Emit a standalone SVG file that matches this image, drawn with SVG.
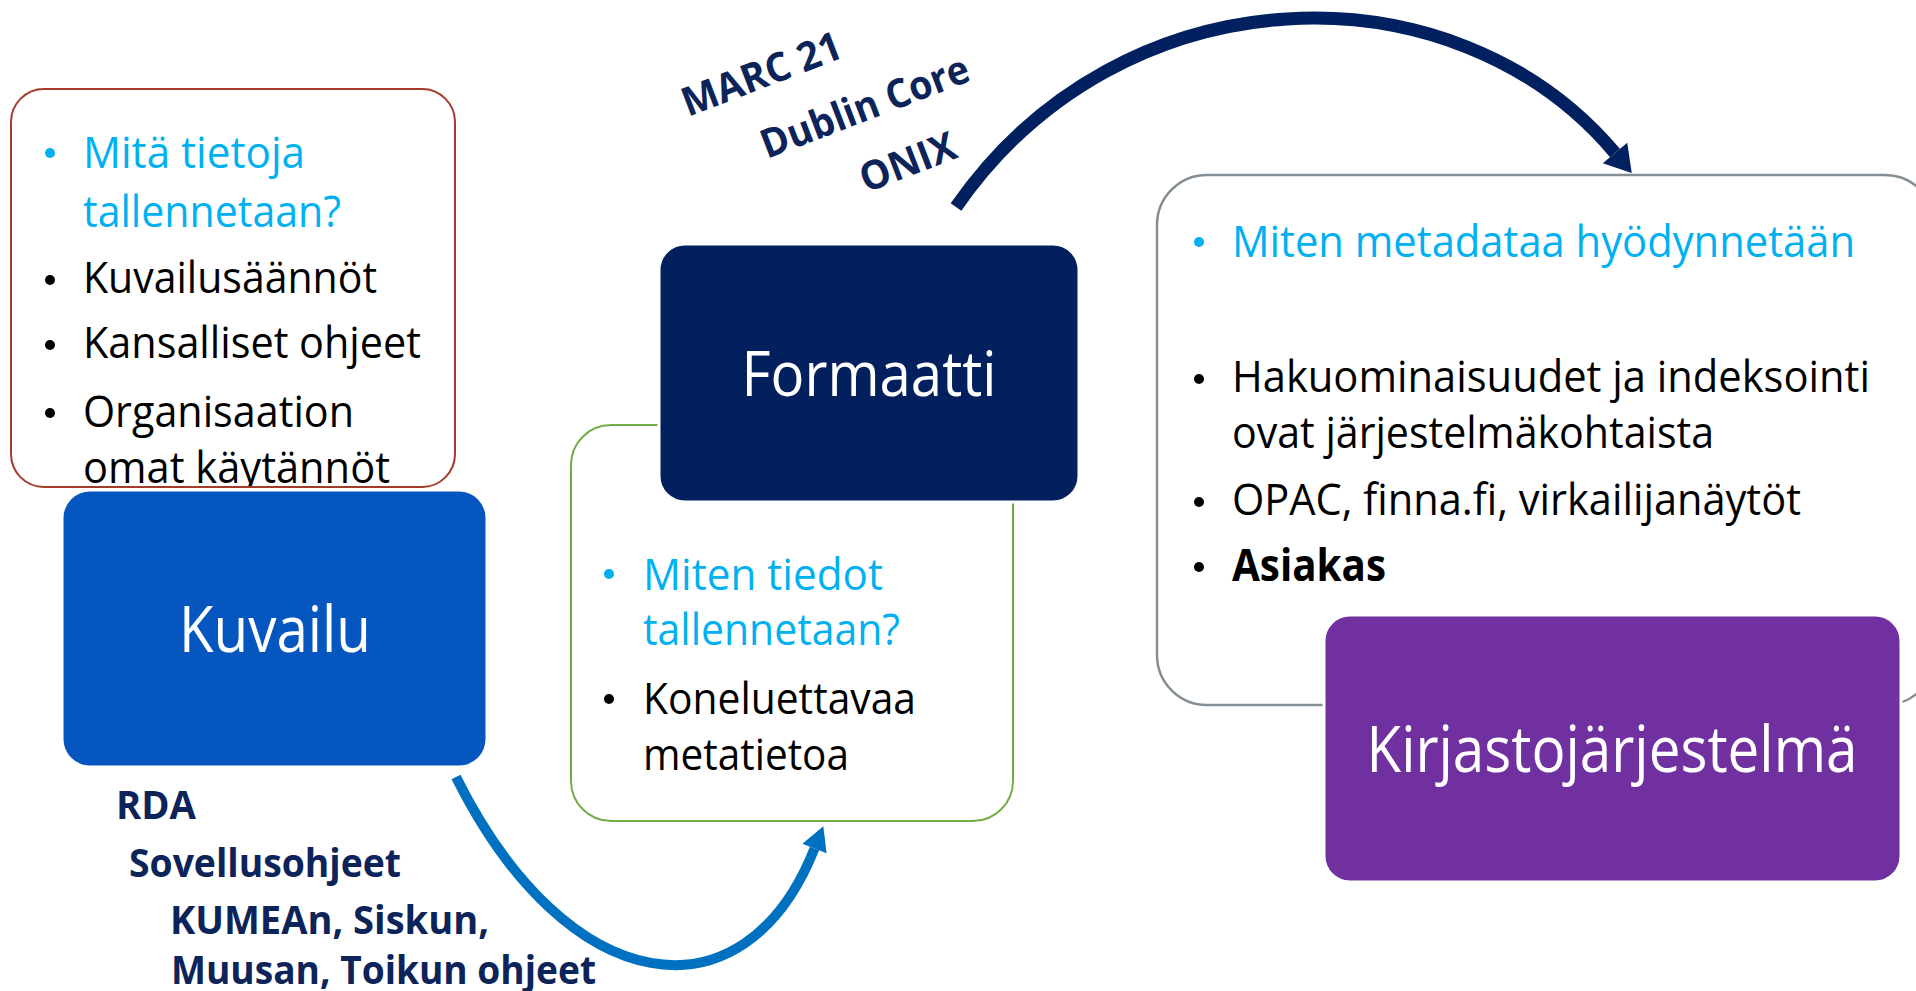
<svg xmlns="http://www.w3.org/2000/svg" width="1916" height="991" viewBox="0 0 1916 991">
<style>
.t{font-family:"Open Sans","Noto Sans",sans-serif;font-size:44px;fill:#000}
.c{fill:#00B0F0}
.lbl{font-family:"Open Sans","Noto Sans",sans-serif;font-weight:400;fill:#fff;text-anchor:middle}
.nb{font-family:"Open Sans","Noto Sans",sans-serif;font-weight:700;font-size:40px;fill:#0C2459}
.bul{fill:#000}
.bc{fill:#00B0F0}
</style>
<defs>
<clipPath id="redclip"><rect x="0" y="80" width="470" height="406"/></clipPath>
<marker id="hNavy" markerUnits="userSpaceOnUse" markerWidth="40" markerHeight="40" viewBox="0 -20 30 40" refX="0" refY="0" orient="auto"><path d="M0,-16 L26,0 L0,16 Z" fill="#002060"/></marker>
<marker id="hBlue" markerUnits="userSpaceOnUse" markerWidth="40" markerHeight="40" viewBox="0 -20 30 40" refX="0" refY="0" orient="auto"><path d="M0,-13 L24,0 L0,13 Z" fill="#0070C0"/></marker>
</defs>
<rect width="1916" height="991" fill="#fff"/>

<g id="kuvailu-info">
<rect x="11" y="89" width="444" height="398" rx="33" fill="#fff" stroke="#A23B2A" stroke-width="2"/>
<circle cx="50" cy="153" r="5" class="bc"/>
<circle cx="50" cy="280" r="5" class="bul"/>
<circle cx="50" cy="345" r="5" class="bul"/>
<circle cx="50" cy="413" r="5" class="bul"/>
<g clip-path="url(#redclip)">
<text class="t c" x="83" y="168" textLength="222" lengthAdjust="spacingAndGlyphs">Mitä tietoja</text>
<text class="t c" x="83" y="227" textLength="258" lengthAdjust="spacingAndGlyphs">tallennetaan?</text>
<text class="t" x="83" y="293" textLength="294" lengthAdjust="spacingAndGlyphs">Kuvailusäännöt</text>
<text class="t" x="83" y="358" textLength="338" lengthAdjust="spacingAndGlyphs">Kansalliset ohjeet</text>
<text class="t" x="83" y="427" textLength="271" lengthAdjust="spacingAndGlyphs">Organisaation</text>
<text class="t" x="83" y="483" textLength="307" lengthAdjust="spacingAndGlyphs">omat käytännöt</text>
</g>
</g>

<g id="kuvailu">
<rect x="62" y="490" width="425" height="277" rx="28" fill="#0557BF" stroke="#fff" stroke-width="3"/>
<text class="lbl" x="275" y="652" font-size="64" textLength="192" lengthAdjust="spacingAndGlyphs">Kuvailu</text>
</g>

<g id="formaatti-info">
<rect x="571" y="425" width="442" height="396" rx="40" fill="#fff" stroke="#70AD47" stroke-width="2"/>
<circle cx="609" cy="574" r="5" class="bc"/>
<circle cx="609" cy="699" r="5" class="bul"/>
<text class="t c" x="643" y="590" textLength="240" lengthAdjust="spacingAndGlyphs">Miten tiedot</text>
<text class="t c" x="643" y="645" textLength="257" lengthAdjust="spacingAndGlyphs">tallennetaan?</text>
<text class="t" x="643" y="714" textLength="273" lengthAdjust="spacingAndGlyphs">Koneluettavaa</text>
<text class="t" x="643" y="770" textLength="206" lengthAdjust="spacingAndGlyphs">metatietoa</text>
</g>

<g id="formaatti">
<rect x="659" y="244" width="420" height="258" rx="26" fill="#03205E" stroke="#fff" stroke-width="3"/>
<text class="lbl" x="869" y="396" font-size="62" textLength="255" lengthAdjust="spacingAndGlyphs">Formaatti</text>
</g>

<g id="kirjasto-info">
<rect x="1157" y="175" width="778" height="530" rx="50" fill="#fff" stroke="#848E94" stroke-width="2.5"/>
<circle cx="1199" cy="242" r="5" class="bc"/>
<circle cx="1199" cy="379" r="5" class="bul"/>
<circle cx="1199" cy="502" r="5" class="bul"/>
<circle cx="1199" cy="567" r="5" class="bul"/>
<text class="t c" x="1232" y="257" textLength="623" lengthAdjust="spacingAndGlyphs">Miten metadataa hyödynnetään</text>
<text class="t" x="1232" y="392" textLength="638" lengthAdjust="spacingAndGlyphs">Hakuominaisuudet ja indeksointi</text>
<text class="t" x="1232" y="448" textLength="482" lengthAdjust="spacingAndGlyphs">ovat järjestelmäkohtaista</text>
<text class="t" x="1232" y="515" textLength="569" lengthAdjust="spacingAndGlyphs">OPAC, finna.fi, virkailijanäytöt</text>
<text class="t" x="1232" y="581" font-weight="700" textLength="154" lengthAdjust="spacingAndGlyphs">Asiakas</text>
</g>

<g id="kirjastojarjestelma">
<rect x="1324" y="615" width="577" height="267" rx="26" fill="#7030A0" stroke="#fff" stroke-width="3"/>
<text class="lbl" x="1612" y="772" font-size="64" textLength="491" lengthAdjust="spacingAndGlyphs">Kirjastojärjestelmä</text>
</g>

<g id="labels">
<text class="nb" x="116" y="819" textLength="80" lengthAdjust="spacingAndGlyphs">RDA</text>
<text class="nb" x="129" y="877" textLength="272" lengthAdjust="spacingAndGlyphs">Sovellusohjeet</text>
<text class="nb" x="170" y="934" textLength="319" lengthAdjust="spacingAndGlyphs">KUMEAn, Siskun,</text>
<text class="nb" x="171" y="984" textLength="425" lengthAdjust="spacingAndGlyphs">Muusan, Toikun ohjeet</text>
<text class="nb" font-size="42" transform="translate(688,117) rotate(-21)" textLength="168" lengthAdjust="spacingAndGlyphs">MARC 21</text>
<text class="nb" font-size="42" transform="translate(767,159) rotate(-21)" textLength="220" lengthAdjust="spacingAndGlyphs">Dublin Core</text>
<text class="nb" font-size="42" transform="translate(866,193) rotate(-21)" textLength="100" lengthAdjust="spacingAndGlyphs">ONIX</text>
</g>

<g id="connectors" fill="none">
<path d="M456,777 C567.5,1000.8 744.6,1025.2 814.5,848.5" stroke="#0070C0" stroke-width="10" marker-end="url(#hBlue)"/>
<path d="M956,207 C1121,-31 1454,-38.5 1615,153" stroke="#002060" stroke-width="13" marker-end="url(#hNavy)"/>
</g>
</svg>
